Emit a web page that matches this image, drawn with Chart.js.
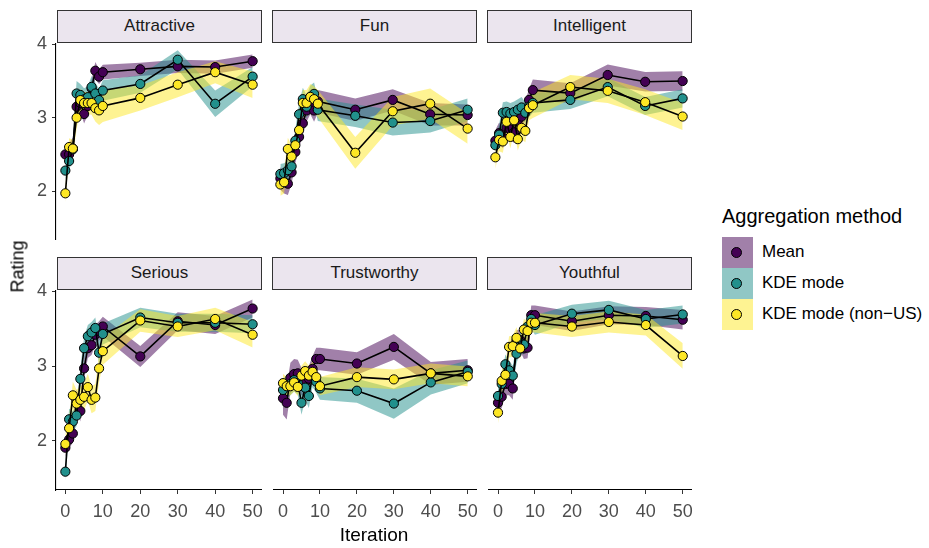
<!DOCTYPE html>
<html>
<head>
<meta charset="utf-8">
<script src="https://cdn.jsdelivr.net/npm/chart.js@4.4.1/dist/chart.umd.min.js"></script>
<style>
  body { margin: 0; background: #fff; font-family: "Liberation Sans", Arial, sans-serif; }
  #wrap { position: relative; width: 929px; height: 548px; overflow: hidden; }
  #wrap canvas, .strip, .txt, .key, .dot { position: absolute; }
  .strip { box-sizing: border-box; border: 1px solid #333; background: #EBE5EE;
           text-align: center; font-size: 17px; line-height: 30px; color: #1a1a1a; }
  .txt { white-space: nowrap; color: #000; }
  .key { width: 31px; height: 31px; }
  .dot { width: 9px; height: 9px; border: 1px solid #000; border-radius: 50%; }
</style>
</head>
<body>
<div id="wrap"></div>
<script>
// x categories and tick labels
const iterations = [0, 1, 2, 3, 4, 5, 6, 7, 8, 9, 10, 20, 30, 40, 50];
const xTicks = [0, 10, 20, 30, 40, 50];
const yTicks = [2, 3, 4];
const panels = ['Attractive', 'Fun', 'Intelligent', 'Serious', 'Trustworthy', 'Youthful'];
const methods = ['Mean', 'KDE mode', 'KDE mode (non\u2212US)'];
const colors = [[68, 1, 84], [33, 144, 140], [253, 231, 37]];

// ratings per iteration, and half-width of the ribbon
const attractiveMean = [2.50, 2.50, 2.58, 3.15, 3.20, 3.05, 3.16, 3.40, 3.64, 3.56, 3.62, 3.66, 3.70, 3.69, 3.77];
const attractiveMeanW = [0.12, 0.15, 0.15, 0.12, 0.12, 0.13, 0.12, 0.12, 0.12, 0.10, 0.10, 0.09, 0.09, 0.09, 0.09];
const attractiveKde = [2.28, 2.41, 2.57, 3.33, 3.31, 3.25, 3.28, 3.42, 3.33, 3.24, 3.37, 3.46, 3.79, 3.19, 3.56];
const attractiveKdeW = [0.12, 0.12, 0.15, 0.17, 0.15, 0.15, 0.15, 0.15, 0.15, 0.15, 0.14, 0.12, 0.13, 0.18, 0.13];
const attractiveNonUS = [1.97, 2.60, 2.58, 3.00, 3.24, 3.20, 3.20, 3.20, 3.13, 3.10, 3.16, 3.27, 3.45, 3.62, 3.45];
const attractiveNonUSW = [0.12, 0.12, 0.12, 0.15, 0.15, 0.15, 0.15, 0.16, 0.18, 0.20, 0.22, 0.17, 0.17, 0.15, 0.18];

const funMean = [2.20, 2.15, 2.13, 2.28, 2.55, 2.75, 2.93, 3.10, 3.20, 3.10, 3.22, 3.11, 3.24, 3.05, 3.04];
const funMeanW = [0.15, 0.15, 0.15, 0.15, 0.15, 0.15, 0.15, 0.15, 0.15, 0.15, 0.15, 0.15, 0.14, 0.15, 0.14];
const funKde = [2.26, 2.27, 2.31, 2.36, 2.70, 3.05, 3.25, 3.15, 3.28, 3.32, 3.11, 3.03, 2.94, 2.96, 3.11];
const funKdeW = [0.13, 0.13, 0.13, 0.13, 0.15, 0.15, 0.15, 0.15, 0.15, 0.15, 0.15, 0.15, 0.17, 0.15, 0.15];
const funNonUS = [2.12, 2.15, 2.59, 2.49, 2.64, 2.84, 3.20, 3.20, 3.28, 3.25, 3.19, 2.54, 3.09, 3.19, 2.86];
const funNonUSW = [0.15, 0.15, 0.15, 0.15, 0.15, 0.17, 0.17, 0.17, 0.17, 0.17, 0.18, 0.21, 0.19, 0.20, 0.20];

const intelligentMean = [2.70, 2.80, 2.74, 2.87, 2.85, 2.81, 2.97, 3.02, 3.10, 3.24, 3.37, 3.33, 3.57, 3.48, 3.49];
const intelligentMeanW = [0.14, 0.14, 0.14, 0.14, 0.14, 0.14, 0.14, 0.14, 0.14, 0.14, 0.14, 0.13, 0.14, 0.13, 0.13];
const intelligentKde = [2.64, 2.78, 3.07, 3.08, 3.06, 3.08, 3.11, 3.14, 3.07, 3.15, 3.20, 3.24, 3.41, 3.16, 3.26];
const intelligentKdeW = [0.13, 0.13, 0.14, 0.14, 0.14, 0.14, 0.14, 0.14, 0.14, 0.14, 0.13, 0.12, 0.12, 0.12, 0.12];
const intelligentNonUS = [2.48, 2.71, 2.69, 2.95, 2.75, 2.97, 2.72, 2.87, 2.83, 3.13, 3.17, 3.41, 3.36, 3.21, 3.02];
const intelligentNonUSW = [0.15, 0.15, 0.15, 0.15, 0.15, 0.15, 0.15, 0.15, 0.15, 0.16, 0.17, 0.16, 0.16, 0.17, 0.18];

const seriousMean = [1.91, 2.02, 2.10, 2.55, 2.40, 2.97, 3.24, 3.28, 3.42, 3.47, 3.53, 3.13, 3.60, 3.55, 3.77];
const seriousMeanW = [0.12, 0.12, 0.12, 0.14, 0.14, 0.14, 0.13, 0.13, 0.13, 0.13, 0.13, 0.14, 0.12, 0.12, 0.12];
const seriousKde = [1.59, 2.29, 2.26, 2.34, 2.83, 3.24, 3.40, 3.45, 3.51, 3.18, 3.43, 3.65, 3.58, 3.58, 3.56];
const seriousKdeW = [0.12, 0.14, 0.14, 0.14, 0.15, 0.15, 0.15, 0.14, 0.14, 0.15, 0.14, 0.13, 0.12, 0.12, 0.12];
const seriousNonUS = [1.96, 2.17, 2.61, 2.50, 2.55, 2.59, 2.72, 2.55, 2.58, 2.97, 3.20, 3.61, 3.53, 3.63, 3.42];
const seriousNonUSW = [0.14, 0.15, 0.18, 0.18, 0.18, 0.18, 0.18, 0.18, 0.18, 0.18, 0.18, 0.15, 0.14, 0.15, 0.17];

const trustworthyMean = [2.56, 2.50, 2.83, 2.88, 2.89, 2.78, 2.77, 2.82, 2.95, 3.08, 3.08, 3.02, 3.24, 2.89, 2.93];
const trustworthyMeanW = [0.22, 0.22, 0.20, 0.20, 0.18, 0.18, 0.18, 0.17, 0.17, 0.15, 0.15, 0.15, 0.17, 0.15, 0.15];
const trustworthyKde = [2.67, 2.72, 2.75, 2.80, 2.76, 2.50, 2.70, 2.59, 2.86, 2.78, 2.69, 2.66, 2.49, 2.77, 2.91];
const trustworthyKdeW = [0.15, 0.15, 0.15, 0.15, 0.15, 0.16, 0.16, 0.16, 0.15, 0.15, 0.15, 0.16, 0.20, 0.16, 0.15];
const trustworthyNonUS = [2.76, 2.72, 2.72, 2.77, 2.71, 2.86, 2.92, 2.86, 2.91, 2.84, 2.72, 2.84, 2.81, 2.89, 2.85];
const trustworthyNonUSW = [0.12, 0.12, 0.12, 0.12, 0.12, 0.13, 0.13, 0.13, 0.13, 0.13, 0.12, 0.13, 0.13, 0.13, 0.13];

const youthfulMean = [2.50, 2.58, 2.75, 2.75, 2.69, 3.32, 3.33, 3.22, 3.23, 3.66, 3.66, 3.58, 3.66, 3.65, 3.60];
const youthfulMeanW = [0.15, 0.15, 0.15, 0.15, 0.15, 0.14, 0.14, 0.14, 0.14, 0.13, 0.13, 0.13, 0.12, 0.12, 0.13];
const youthfulKde = [2.59, 2.75, 3.01, 2.93, 2.86, 3.15, 3.30, 3.27, 3.51, 3.61, 3.53, 3.68, 3.73, 3.61, 3.67];
const youthfulKdeW = [0.13, 0.13, 0.13, 0.13, 0.13, 0.13, 0.13, 0.13, 0.13, 0.13, 0.13, 0.12, 0.12, 0.12, 0.12];
const youthfulNonUS = [2.37, 2.79, 2.87, 3.24, 3.25, 3.36, 3.22, 3.47, 3.45, 3.56, 3.56, 3.51, 3.57, 3.53, 3.12];
const youthfulNonUSW = [0.14, 0.14, 0.14, 0.14, 0.14, 0.14, 0.14, 0.14, 0.14, 0.13, 0.13, 0.14, 0.14, 0.14, 0.17];

const panelSeries = {
  Attractive: [[attractiveMean, attractiveMeanW], [attractiveKde, attractiveKdeW], [attractiveNonUS, attractiveNonUSW]],
  Fun: [[funMean, funMeanW], [funKde, funKdeW], [funNonUS, funNonUSW]],
  Intelligent: [[intelligentMean, intelligentMeanW], [intelligentKde, intelligentKdeW], [intelligentNonUS, intelligentNonUSW]],
  Serious: [[seriousMean, seriousMeanW], [seriousKde, seriousKdeW], [seriousNonUS, seriousNonUSW]],
  Trustworthy: [[trustworthyMean, trustworthyMeanW], [trustworthyKde, trustworthyKdeW], [trustworthyNonUS, trustworthyNonUSW]],
  Youthful: [[youthfulMean, youthfulMeanW], [youthfulKde, youthfulKdeW], [youthfulNonUS, youthfulNonUSW]]
};

// layout of the facet grid
const colX = [56, 271, 486];
const rowY = [42, 289];
const plotW = 206, plotH = 201;
const FONT = '"Liberation Sans", Arial, sans-serif';
const wrap = document.getElementById('wrap');

const rgba = (c, a) => `rgba(${c[0]},${c[1]},${c[2]},${a})`;

function addText(text, css) {
  const d = document.createElement('div');
  d.className = 'txt';
  d.textContent = text;
  Object.assign(d.style, css);
  wrap.appendChild(d);
  return d;
}

panels.forEach((name, k) => {
  const col = k % 3, row = Math.floor(k / 3);
  const showX = row === 1, showY = col === 0;

  // strip label
  const strip = document.createElement('div');
  strip.className = 'strip';
  strip.textContent = name;
  Object.assign(strip.style, {
    left: (colX[col] + 1) + 'px', top: (rowY[row] - 32) + 'px',
    width: (plotW - 1) + 'px', height: '33px'
  });
  wrap.appendChild(strip);

  const padL = showY ? 56 : 0, padT = 14, padR = 8, padB = showX ? 44 : 12;
  const cv = document.createElement('canvas');
  cv.width = padL + plotW + padR;
  cv.height = padT + plotH + padB;
  cv.style.left = (colX[col] - padL) + 'px';
  cv.style.top = (rowY[row] - padT) + 'px';
  wrap.appendChild(cv);

  const datasets = [];
  panelSeries[name].forEach(([vals, hw], s) => {
    const ord = 30 - s * 5;
    datasets.push({
      data: iterations.map((x, i) => ({ x, y: vals[i] - hw[i] })),
      borderColor: 'rgba(0,0,0,0)', borderWidth: 0, pointRadius: 0, fill: false, order: ord
    });
    datasets.push({
      data: iterations.map((x, i) => ({ x, y: vals[i] + hw[i] })),
      borderColor: 'rgba(0,0,0,0)', borderWidth: 0, pointRadius: 0,
      backgroundColor: rgba(colors[s], 0.5), fill: '-1', order: ord
    });
  });
  panelSeries[name].forEach(([vals], s) => {
    datasets.push({
      label: methods[s],
      data: iterations.map((x, i) => ({ x, y: vals[i] })),
      borderColor: '#000', borderWidth: 1.6, tension: 0, fill: false,
      pointRadius: 4.6, pointBorderWidth: 1, pointBorderColor: '#000',
      pointBackgroundColor: rgba(colors[s], 1), order: 2 - s
    });
  });

  new Chart(cv, {
    type: 'line',
    data: { datasets },
    options: {
      responsive: false, animation: false, devicePixelRatio: 1,
      layout: { autoPadding: false, padding: { left: 0, top: padT, right: padR, bottom: showX ? 0 : padB } },
      plugins: {
        legend: { display: false }, tooltip: { enabled: false },
        filler: { drawTime: 'beforeDatasetsDraw', propagate: false }
      },
      scales: {
        x: {
          type: 'linear', min: -2.5, max: 52.5, display: showX,
          afterBuildTicks: s => { s.ticks = xTicks.map(v => ({ value: v })); },
          afterFit: s => { if (showX) s.height = 44; },
          grid: { drawOnChartArea: false, drawTicks: true, tickLength: 4, tickColor: '#333', tickWidth: 1 },
          border: { display: true, color: '#000', width: 1.1 },
          ticks: { font: { family: FONT, size: 18 }, color: '#4d4d4d', padding: 7, maxRotation: 0, autoSkip: false }
        },
        y: {
          type: 'linear', min: 1.345, max: 4.007, display: showY,
          afterBuildTicks: s => { s.ticks = yTicks.map(v => ({ value: v })); },
          afterFit: s => { if (showY) s.width = 56; },
          grid: { drawOnChartArea: false, drawTicks: true, tickLength: 4, tickColor: '#333', tickWidth: 1 },
          border: { display: true, color: '#000', width: 1.1 },
          ticks: { font: { family: FONT, size: 18 }, color: '#4d4d4d', padding: 5 }
        }
      }
    }
  });
});

// axis titles
addText('Rating', { left: '-12px', top: '256px', width: '60px', textAlign: 'center',
  fontSize: '18px', transform: 'rotate(-90deg)' });
addText('Iteration', { left: '314px', top: '524px', width: '120px', textAlign: 'center', fontSize: '19px' });

// legend
addText('Aggregation method', { left: '722px', top: '205px', fontSize: '20px' });
methods.forEach((m, s) => {
  const y = 237 + s * 31;
  const key = document.createElement('div');
  key.className = 'key';
  Object.assign(key.style, { left: '722px', top: y + 'px', background: rgba(colors[s], 0.5) });
  wrap.appendChild(key);
  const dot = document.createElement('div');
  dot.className = 'dot';
  Object.assign(dot.style, { left: '731px', top: (y + 10) + 'px', background: rgba(colors[s], 1) });
  wrap.appendChild(dot);
  addText(m, { left: '762px', top: (y + 5) + 'px', fontSize: '17px' });
});
</script>
</body>
</html>
